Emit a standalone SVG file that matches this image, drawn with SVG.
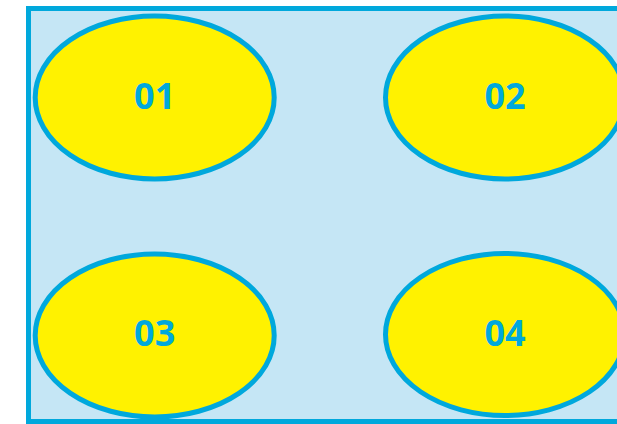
<svg xmlns="http://www.w3.org/2000/svg" width="617" height="424" viewBox="0 0 617 424">
<style>
.bg{fill:#c5e6f5;stroke:#00a8dc;stroke-width:5}
.node ellipse{fill:#fff200;stroke:#00a8dc;stroke-width:5}
.node text{font-family:"Open Sans","Noto Sans",sans-serif;font-weight:700;font-size:36px;fill:#00a8dc;text-anchor:middle}
</style>
<rect width="617" height="424" fill="#ffffff"/>
<rect class="bg" x="28.5" y="8.5" width="640" height="413"/>
<g id="connectors"/>
<g id="node-01" class="node"><ellipse cx="154.7" cy="97.5" rx="119.5" ry="81.5"/><text x="154.7" y="108.5">01</text></g>
<g id="node-02" class="node"><ellipse cx="505" cy="97.5" rx="119.5" ry="81.5"/><text x="505" y="108.5">02</text></g>
<g id="node-03" class="node"><ellipse cx="154.7" cy="335.5" rx="119.5" ry="81.5"/><text x="154.7" y="346">03</text></g>
<g id="node-04" class="node"><ellipse cx="505" cy="334.5" rx="119.5" ry="81"/><text x="505" y="346">04</text></g>
</svg>
